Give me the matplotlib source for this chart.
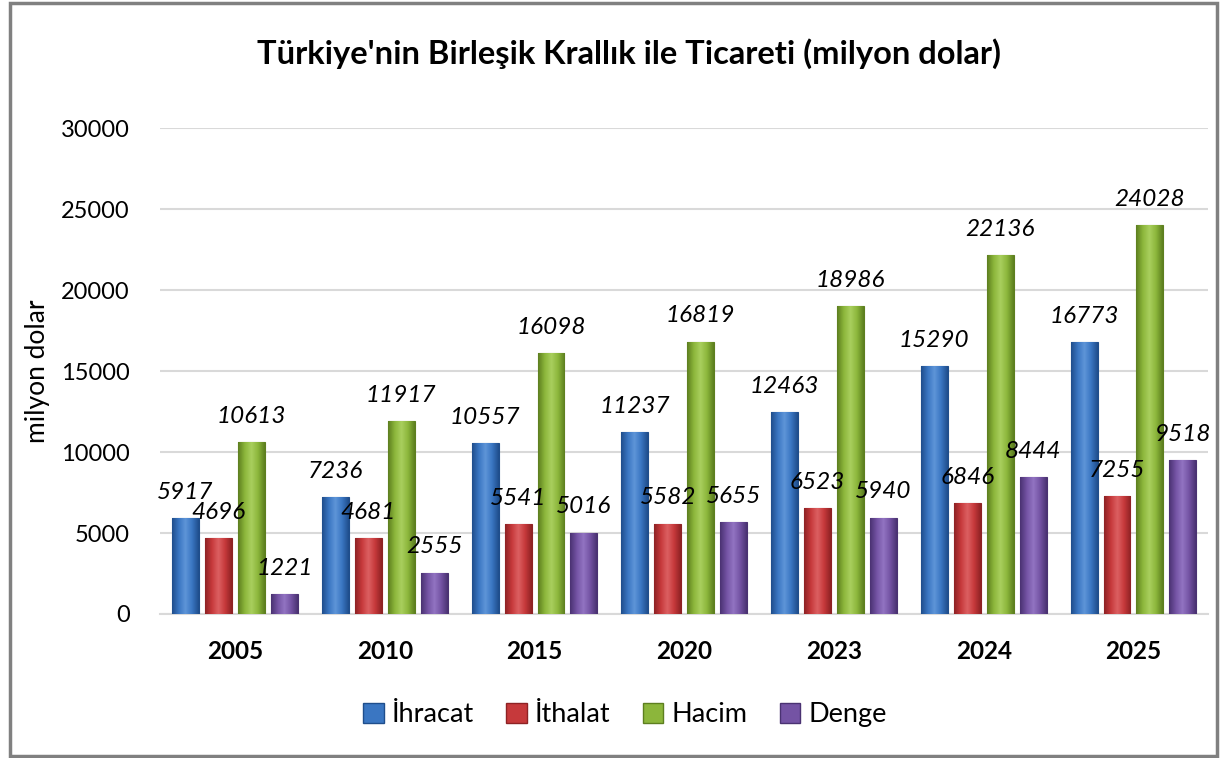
import matplotlib
matplotlib.use("Agg")
import matplotlib.pyplot as plt
import numpy as np
from matplotlib.colors import LinearSegmentedColormap
from matplotlib.patches import Rectangle

plt.rcParams['font.family'] = ['Lato', 'DejaVu Sans']

years = ['2005', '2010', '2015', '2020', '2023', '2024', '2025']
ihracat = [5917, 7236, 10557, 11237, 12463, 15290, 16773]
ithalat = [4696, 4681, 5541, 5582, 6523, 6846, 7255]
hacim = [10613, 11917, 16098, 16819, 18986, 22136, 24028]
denge = [1221, 2555, 5016, 5655, 5940, 8444, 9518]

series_names = ['İhracat', 'İthalat', 'Hacim', 'Denge']
series_vals = [ihracat, ithalat, hacim, denge]
# (dark edge, mid, light) per series
palette = [('#1f4e8c', '#3a76c2', '#5e95d8'),
           ('#8e2224', '#c6393b', '#dc6062'),
           ('#5d7f1f', '#8cb63b', '#a9cf5e'),
           ('#4a3272', '#7453a4', '#9274c2')]

fig = plt.figure(figsize=(12.23, 7.58), dpi=100)
ax = fig.add_axes([0.131, 0.190, 0.857, 0.641])

x = np.arange(len(years))
step = 0.22
width = 0.18

legend_handles = []
for i, (vals, cols) in enumerate(zip(series_vals, palette)):
    pos = x + (i - 1.5) * step
    bars = ax.bar(pos, vals, width, color=cols[1], edgecolor=cols[0],
                  linewidth=0.8, zorder=3)
    cmap = LinearSegmentedColormap.from_list('g%d' % i, [cols[0], cols[1], cols[2], cols[1], cols[0]])
    grad = np.linspace(0, 1, 64).reshape(1, -1)
    for b in bars:
        bx, by = b.get_x(), b.get_y()
        im = ax.imshow(grad, cmap=cmap, aspect='auto', zorder=3.5,
                       extent=(bx, bx + b.get_width(), by, by + b.get_height()))
        im.set_clip_path(b)
        ax.annotate(str(int(b.get_height())), (b.get_x() + b.get_width() / 2, b.get_height()),
                    xytext=(0, 11), textcoords='offset points', ha='center', va='bottom',
                    fontsize=17.5, style='italic', zorder=5, annotation_clip=False)
    legend_handles.append(Rectangle((0, 0), 1, 1, facecolor=cols[1], edgecolor=cols[0]))

ax.set_xlim(-0.5, len(years) - 0.5)
ax.set_ylim(0, 30000)
ax.set_yticks(range(0, 30001, 5000))
ax.yaxis.grid(True, color='#d9d9d9', linewidth=1.5, zorder=0)
ax.set_axisbelow(True)
for s in ['top', 'right', 'left']:
    ax.spines[s].set_visible(False)
ax.spines['bottom'].set_color('#d9d9d9')
ax.spines['bottom'].set_linewidth(1.5)
ax.tick_params(axis='y', length=0, pad=22, labelsize=17)
ax.tick_params(axis='x', length=0, pad=19, labelsize=17.5)
ax.set_xticks(x)
ax.set_xticklabels(years, fontweight='bold')
ax.set_ylabel('milyon dolar', fontsize=19, labelpad=8)

fig.suptitle("Türkiye'nin Birleşik Krallık ile Ticareti (milyon dolar)",
             fontsize=23.5, fontweight='bold', x=0.514, y=0.95)

fig.legend(legend_handles, series_names, loc='center', bbox_to_anchor=(0.511, 0.057),
           ncol=4, frameon=False, fontsize=19.5, handlelength=0.75, handleheight=0.75,
           handletextpad=0.3, columnspacing=1.2)

fig.patches.append(Rectangle((0.008, 0.002), 0.987, 0.994, transform=fig.transFigure,
                             fill=False, edgecolor='#808080', linewidth=2.5))

fig.savefig('out.png', dpi=100)
